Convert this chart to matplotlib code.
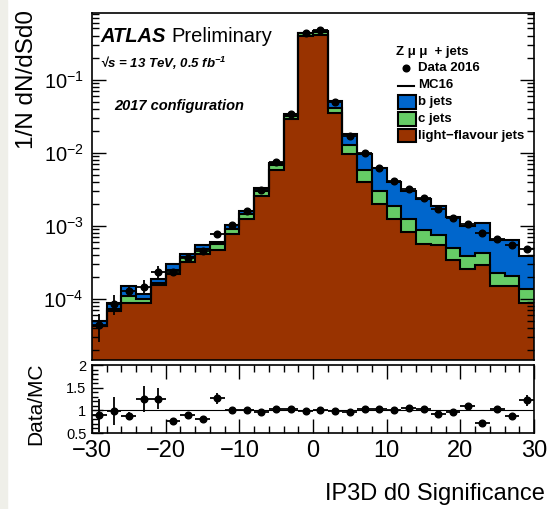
import numpy as np
import matplotlib
matplotlib.use("Agg")
import matplotlib.pyplot as plt
from matplotlib.patches import Rectangle
from matplotlib.lines import Line2D
from matplotlib.ticker import MultipleLocator, NullFormatter, LogLocator

plt.rcParams['font.family'] = ['Liberation Sans', 'DejaVu Sans']
plt.rcParams['mathtext.fontset'] = 'custom'
plt.rcParams['mathtext.rm'] = 'Liberation Sans'
plt.rcParams['mathtext.it'] = 'Liberation Sans:italic'
plt.rcParams['mathtext.bf'] = 'Liberation Sans:bold:italic'

# IP3D d0 significance, 30 bins from -30 to 30
bin_edges = np.arange(-30, 31, 2)

light_jets = [4.20e-5, 6.75e-5, 8.75e-5, 8.75e-5, 1.53e-4, 2.21e-4, 3.19e-4, 4.16e-4,
              4.72e-4, 7.82e-4, 1.23e-3, 2.56e-3, 5.75e-3, 2.88e-2, 0.394, 0.407,
              3.44e-2, 9.45e-3, 3.91e-3, 2.01e-3, 1.23e-3, 8.22e-4, 5.58e-4, 5.41e-4,
              3.37e-4, 2.59e-4, 2.88e-4, 1.48e-4, 1.48e-4, 8.75e-5]
c_jets = [0.04e-5, 0.59e-5, 2.15e-5, 1.3e-5, 1.4e-5, 2.5e-5, 5.5e-5, 6.1e-5,
          8.6e-5, 1.34e-4, 2.4e-4, 4.4e-4, 9.9e-4, 3.3e-3, 0.033, 0.047,
          5.9e-3, 3.25e-3, 1.84e-3, 9.9e-4, 6.2e-4, 4.08e-4, 3.09e-4, 2.0e-4,
          1.66e-4, 1.23e-4, 1.36e-4, 7.7e-5, 5.5e-5, 5.05e-5]
b_jets = [0.68e-5, 1.41e-5, 4.1e-5, 1.7e-5, 1.8e-5, 5.7e-5, 3.7e-5, 7.5e-5,
          5.0e-5, 1.0e-4, 1.4e-4, 2.4e-4, 5.0e-4, 1.2e-3, 0.010, 0.012,
          1.04e-2, 5.05e-3, 3.78e-3, 3.08e-3, 2.13e-3, 1.77e-3, 1.49e-3, 1.11e-3,
          8.17e-4, 6.02e-4, 6.83e-4, 4.22e-4, 4.29e-4, 2.53e-4]

# data / MC per bin and its uncertainty
ratio = [0.888, 0.985, 0.866, 1.246, 1.26, 0.761, 0.888, 0.813, 1.269, 1.0,
         1.0, 0.963, 1.022, 1.022, 0.993, 1.015, 0.985, 0.963, 1.037, 1.03,
         1.015, 1.06, 1.03, 0.925, 0.955, 1.09, 0.724, 1.022, 0.866, 1.224]
ratio_err = [0.36, 0.30, 0.09, 0.29, 0.24, 0.08, 0.04, 0.025, 0.12, 0.015,
             0.015, 0.015, 0.015, 0.01, 0.005, 0.005, 0.01, 0.015, 0.015, 0.015,
             0.02, 0.05, 0.025, 0.025, 0.03, 0.06, 0.03, 0.04, 0.03, 0.12]

light = np.array(light_jets)
lc = light + np.array(c_jets)
total = lc + np.array(b_jets)
data = np.array(ratio) * total
data_err = np.array(ratio_err) * total
centers = 0.5 * (bin_edges[1:] + bin_edges[:-1])
half_w = np.diff(bin_edges) / 2

col_b = '#0066cc'
col_c = '#66cc66'
col_l = '#993300'

fig = plt.figure(figsize=(5.48, 5.09), dpi=100)
fig.patches.append(Rectangle((0, 0), 7 / 548, 1, transform=fig.transFigure,
                             color='#efefe9', zorder=0))

ax = fig.add_axes([0.1679, 0.2937, 0.8066, 0.6808])
rax = fig.add_axes([0.1679, 0.1493, 0.8066, 0.1336])

base = 1e-7
ax.stairs(light, bin_edges, baseline=base, fill=True, color=col_l, lw=0)
ax.stairs(lc, bin_edges, baseline=light, fill=True, color=col_c, lw=0)
ax.stairs(total, bin_edges, baseline=lc, fill=True, color=col_b, lw=0)
for level in (light, lc, total):
    ax.stairs(level, bin_edges, baseline=None, color='black', lw=1.5)

ax.errorbar(centers, data, xerr=half_w, yerr=data_err, fmt='o', color='black',
            ms=4.8, elinewidth=1.3, capsize=0, zorder=5)

ax.set_yscale('log')
ax.set_xlim(-30, 30)
ax.set_ylim(1.48e-5, 0.815)
ax.yaxis.set_major_locator(LogLocator(base=10, numticks=10))
ax.yaxis.set_minor_locator(LogLocator(base=10, subs=np.arange(2, 10), numticks=10))
ax.yaxis.set_minor_formatter(NullFormatter())
ax.tick_params(axis='y', which='both', direction='in', left=True, right=True,
               labelsize=14.5, pad=6, width=1.0)
ax.tick_params(axis='y', which='major', length=10)
ax.tick_params(axis='y', which='minor', length=5)
ax.tick_params(axis='x', which='both', bottom=False, top=False, labelbottom=False)
for sp in ax.spines.values():
    sp.set_linewidth(1.2)

# ratio panel
rax.axhline(1.0, color='black', lw=0.8)
rax.errorbar(centers, ratio, xerr=half_w, yerr=ratio_err, fmt='o', color='black',
             ms=4.8, elinewidth=1.3, capsize=0, zorder=5)
rax.set_xlim(-30, 30)
rax.set_ylim(0.5, 2.0)
rax.set_yticks([0.5, 1, 1.5, 2], ['0.5', '1', '1.5', '2'])
rax.yaxis.set_minor_locator(MultipleLocator(0.1))
rax.xaxis.set_major_locator(MultipleLocator(10))
rax.xaxis.set_minor_locator(MultipleLocator(2))
rax.tick_params(axis='x', which='both', direction='in', top=True, bottom=True,
                labelsize=17, pad=5, width=1.0)
rax.tick_params(axis='x', which='major', length=10)
rax.tick_params(axis='x', which='minor', length=5)
rax.tick_params(axis='y', which='both', direction='in', left=True, right=False,
                labelsize=10.5, pad=4, width=1.0)
rax.tick_params(axis='y', which='major', length=8)
rax.tick_params(axis='y', which='minor', length=4)
for sp in rax.spines.values():
    sp.set_linewidth(1.2)

# axis titles
fig.text(0.049, 0.980, '1/N dN/dSd0', rotation=90, ha='center', va='top', fontsize=17.5)
fig.text(0.0657, 0.2063, 'Data/MC', rotation=90, ha='center', va='center', fontsize=15)
fig.text(0.9945, 0.0177, 'IP3D d0 Significance', ha='right', va='baseline', fontsize=17)

# labels in the main panel
bi = dict(fontweight='bold', fontstyle='italic')
ax.text(0.018, 0.9163, 'ATLAS', transform=ax.transAxes, fontsize=14.5, va='baseline', **bi)
ax.text(0.1787, 0.9163, 'Preliminary', transform=ax.transAxes, fontsize=14.5, va='baseline')
ax.text(0.018, 0.8413, '\u221as = 13 TeV, 0.5 fb$^{\\mathbf{-1}}$', transform=ax.transAxes,
        fontsize=9.5, va='baseline', **bi)
ax.text(0.0498, 0.72, '2017 configuration', transform=ax.transAxes, fontsize=10.5,
        va='baseline', **bi)

# legend
tr = ax.transAxes
ax.text(0.688, 0.879, 'Z \u03bc \u03bc  + jets', transform=tr, fontsize=9.5,
        fontweight='bold', va='baseline')
ax.add_line(Line2D([0.710], [0.841], marker='o', ms=4.8, color='black', transform=tr))
ax.text(0.738, 0.841, 'Data 2016', transform=tr, fontsize=9.5, fontweight='bold', va='center')
ax.add_line(Line2D([0.6916, 0.7285], [0.789, 0.789], color='black', lw=1.5, transform=tr))
ax.text(0.738, 0.792, 'MC16', transform=tr, fontsize=9.5, fontweight='bold', va='center')
legend_boxes = [(col_b, 'b jets', 0.7229), (col_c, 'c jets', 0.6739),
                (col_l, 'light\u2212flavour jets', 0.6263)]
for col, name, y0 in legend_boxes:
    ax.add_patch(Rectangle((0.6916, y0), 0.0407, 0.039, transform=tr, facecolor=col,
                           edgecolor='black', lw=1.5, zorder=6))
    ax.text(0.738, y0 + 0.0195, name, transform=tr, fontsize=9.5, fontweight='bold',
            va='center')

fig.savefig('out.png', dpi=100)
